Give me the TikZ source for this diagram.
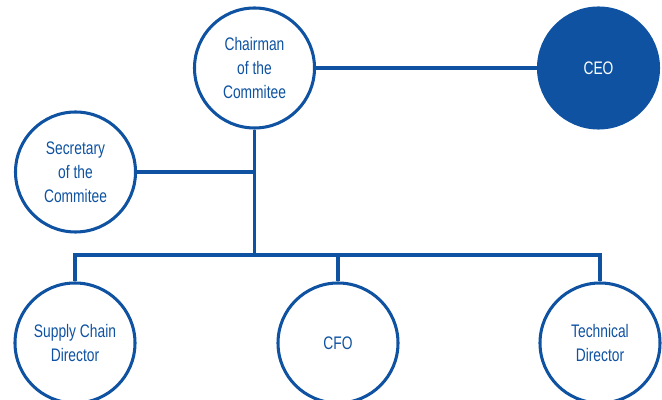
\documentclass[tikz,border=0pt]{standalone}
\usepackage{xcolor}
\usepackage{fontspec}
\setmainfont{Liberation Sans}[FakeStretch=0.76]
\usepackage{tikz}
\tikzset{
	graphnode/.style = {align=center, inner sep=0pt, text centered, font=\fontsize{15.5}{20.5}\selectfont},
	member/.style = {graphnode, circle, draw=boardblue, text=boardblue, line width=2.6pt, minimum size=3.6cm},
	head/.style = {member, fill=boardblue, text=white},
	link/.style = {draw=boardblue, line width=2.6pt},
}
\definecolor{boardblue}{RGB}{14,82,161}

\begin{document}
\begin{tikzpicture}[x=0.03cm, y=-0.03cm]
	\useasboundingbox (0,0) rectangle (662,400);

	\node[member] (chair) at (254.5,68) {Chairman\\of the\\Commitee};
	\node[head] (ceo) at (598.5,68) {CEO};
	\node[member] (sec) at (75.5,172) {Secretary\\of the\\Commitee};
	\node[member] (scd) at (75,343) {Supply Chain\\Director};
	\node[member] (cfo) at (338,343) {CFO};
	\node[member] (tech) at (600,343) {Technical\\Director};

	\coordinate (jsec) at (chair.south |- sec.east);
	\coordinate (jbus) at (254.5,255);

	\path[link] (chair.east) -- (ceo.west);
	\path[link] (chair.south) -- (jbus);
	\path[link] (sec.east) -- (jsec);
	\path[link] (scd.north) |- (jbus) -| (tech.north);
	\path[link] (cfo.north) -- (cfo.north |- jbus);
\end{tikzpicture}
\end{document}
